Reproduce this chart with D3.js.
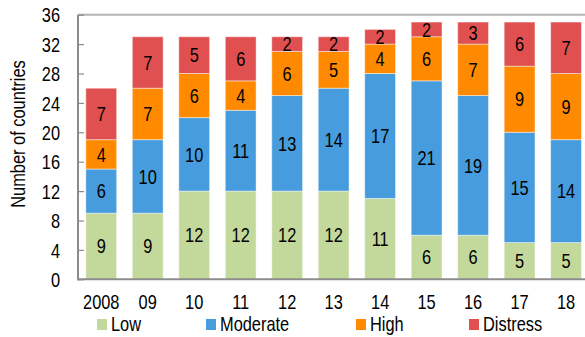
<!DOCTYPE html>
<html><head><meta charset="utf-8">
<script src="https://cdn.jsdelivr.net/npm/d3@7"></script>
<style>
body{margin:0;background:#fff;}
svg{display:block;font-family:"Liberation Sans",Arial,sans-serif;}
</style></head>
<body><svg id="c" width="585" height="337"></svg>
<script>
const categories = ["2008","09","10","11","12","13","14","15","16","17","18"];
const seriesNames = ["Low","Moderate","High","Distress"];
const low      = [9, 9, 12, 12, 12, 12, 11, 6, 6, 5, 5];
const moderate = [6, 10, 10, 11, 13, 14, 17, 21, 19, 15, 14];
const high     = [4, 7, 6, 4, 6, 5, 4, 6, 7, 9, 9];
const distress = [7, 7, 5, 6, 2, 2, 2, 2, 3, 6, 7];
const yTicks = [0,4,8,12,16,20,24,28,32,36];
const colors = ["#c3d89b","#469cdc","#ff8a00","#e05050"];

const SX = 0.82, FS = 20;
const rows = categories.map((c,i)=>({cat:c, Low:low[i], Moderate:moderate[i], High:high[i], Distress:distress[i]}));
const stack = d3.stack().keys(seriesNames)(rows);

const svg = d3.select("#c");
const x = d3.scaleBand().domain(categories).range([78, 589.3]).paddingInner(0.337).paddingOuter(0.1685);
const y = d3.scaleLinear().domain([0,36]).range([279.3, 14.7]);

function narrowText(sel, px, py){
  sel.attr("font-size",FS).attr("fill","#000")
     .attr("transform",(d,i,n)=>`translate(${typeof px==="function"?px(d):px},${typeof py==="function"?py(d):py}) scale(${SX},1)`);
  return sel;
}

svg.append("line").attr("x1",78).attr("x2",585).attr("y1",y(36)).attr("y2",y(36))
  .attr("stroke","#b4b4b4").attr("stroke-width",2);

const g = svg.append("g");
stack.forEach((s,si)=>{
  g.selectAll(null).data(s).enter().append("rect")
    .attr("x",d=>x(d.data.cat)).attr("width",x.bandwidth())
    .attr("y",d=>y(d[1])).attr("height",d=>y(d[0])-y(d[1]))
    .attr("fill",colors[si]).attr("stroke","rgba(255,255,255,0.45)").attr("stroke-width",1);
  const t = g.selectAll(null).data(s).enter().append("text")
    .attr("dy","0.36em").attr("text-anchor","middle")
    .text(d=>d[1]-d[0]);
  narrowText(t, d=>x(d.data.cat)+x.bandwidth()/2, d=>(y(d[0])+y(d[1]))/2);
});

// y axis
const yAxis = d3.axisLeft(y).tickValues(yTicks).tickSize(-6).tickPadding(18);
const ya = svg.append("g").attr("transform","translate(78,0)").call(yAxis);
ya.select(".domain").remove();
ya.selectAll(".tick line").attr("stroke","#8c8c8c").attr("stroke-width",1.2);
ya.selectAll(".tick text").attr("font-size",FS).attr("fill","#000").attr("font-family",null)
  .attr("dy","0.36em").attr("x",-18/SX).attr("transform",`scale(${SX},1)`);
svg.append("line").attr("x1",78).attr("x2",78).attr("y1",y(36)).attr("y2",y(0)+1)
  .attr("stroke","#8c8c8c").attr("stroke-width",2);

// x axis
const xAxis = d3.axisBottom(x).tickSize(0).tickPadding(16);
const xa = svg.append("g").attr("transform",`translate(0,${y(0)})`).call(xAxis);
xa.select(".domain").remove();
xa.selectAll(".tick text").attr("font-size",FS).attr("fill","#000").attr("font-family",null)
  .attr("transform",`scale(${SX},1)`);
svg.append("line").attr("x1",77).attr("x2",585).attr("y1",y(0)).attr("y2",y(0))
  .attr("stroke","#8c8c8c").attr("stroke-width",2);

// y title
svg.append("text").attr("transform",`translate(25,134) rotate(-90) scale(${SX},1)`)
  .attr("text-anchor","middle").attr("font-size",FS).attr("fill","#000")
  .text("Number of countries");

// legend
const legX = [97,206,356,469];
const leg = svg.append("g");
seriesNames.forEach((n,i)=>{
  leg.append("rect").attr("x",legX[i]).attr("y",319).attr("width",10).attr("height",11).attr("fill",colors[i]);
  leg.append("text").attr("font-size",FS).attr("fill","#000")
    .attr("transform",`translate(${legX[i]+14},330.5) scale(${SX},1)`).text(n);
});
</script></body></html>
